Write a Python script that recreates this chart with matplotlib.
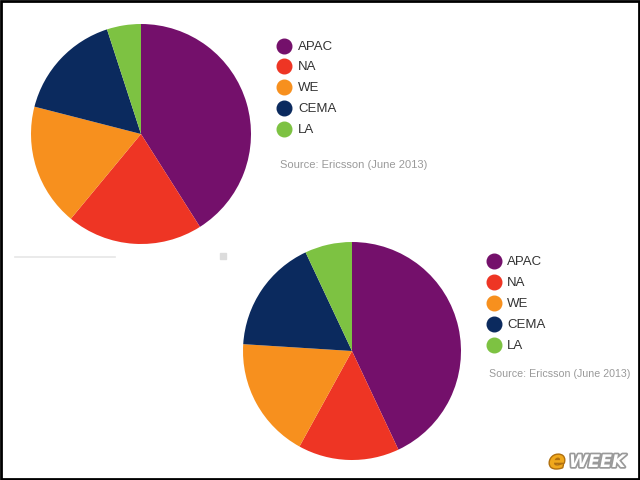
import matplotlib
matplotlib.use("Agg")
import matplotlib.pyplot as plt
import matplotlib.patheffects as pe

# regions and shares (percent)
regions = ["APAC", "NA", "WE", "CEMA", "LA"]
shares_top = [41, 20, 18, 16, 5]
shares_bottom = [43, 15, 18, 17, 7]
colors = ["#74106b", "#ee3524", "#f7901e", "#0b2a5e", "#7dc242"]
source = "Source: Ericsson (June 2013)"

W, H = 640, 480
fig = plt.figure(figsize=(W / 100, H / 100), dpi=100)
fig.patch.set_facecolor("white")


def px_axes(left, top, width, height):
    # axes placed in pixel units from the top-left corner
    return fig.add_axes([left / W, (H - top - height) / H, width / W, height / H])


def draw_pie(ax, shares):
    ax.pie(shares, colors=colors, startangle=90, counterclock=False,
           radius=1.0, wedgeprops=dict(linewidth=0))
    ax.set_xlim(-1, 1)
    ax.set_ylim(-1, 1)
    ax.set_aspect("equal")
    ax.axis("off")


draw_pie(px_axes(31, 24, 220, 220), shares_top)
draw_pie(px_axes(243, 242, 218, 218), shares_bottom)

# overlay in pixel coordinates for legends and decorations
ov = fig.add_axes([0, 0, 1, 1], zorder=5)
ov.set_xlim(0, W)
ov.set_ylim(H, 0)
ov.axis("off")
ov.patch.set_alpha(0)


def draw_legend(x, y0, step, text_x, src_x, src_y, src_size):
    for i, (name, c) in enumerate(zip(regions, colors)):
        y = y0 + i * step
        ov.plot([x], [y], marker="o", markersize=10.5, color=c, linestyle="none")
        ov.text(text_x, y + 1, name, fontsize=9.5, color="#333333", va="center",
                ha="left", family="Liberation Sans")
    ov.text(src_x, src_y, source, fontsize=src_size, color="#9a9a9a", va="center",
            ha="left", family="Liberation Sans")


draw_legend(284, 45.5, 20.9, 298, 280.5, 165, 8)
draw_legend(494, 261, 21, 507, 489, 374, 7.7)

# faint leftovers from the page screenshot
ov.plot([15, 115], [257, 257], color="#e6e6e6", linewidth=1.2)
ov.add_patch(plt.Rectangle((220, 253), 6, 6, color="#dcdcdc"))

# eWEEK mark
ov.text(549, 468, "e", fontsize=17, fontweight="bold", style="italic",
        color="#f0a81c", family="DejaVu Sans",
        path_effects=[pe.withStroke(linewidth=2, foreground="#b07010")])
ov.text(569, 467, "WEEK", fontsize=12.5, fontweight="bold", style="italic",
        color="white", family="DejaVu Sans",
        path_effects=[pe.withStroke(linewidth=2.5, foreground="#9a9a9a")])

# black frame
ov.add_patch(plt.Rectangle((0.5, 0.5), W - 1.5, H - 1.5, fill=False,
                           edgecolor="black", linewidth=2))

fig.savefig("out.png", dpi=100)
